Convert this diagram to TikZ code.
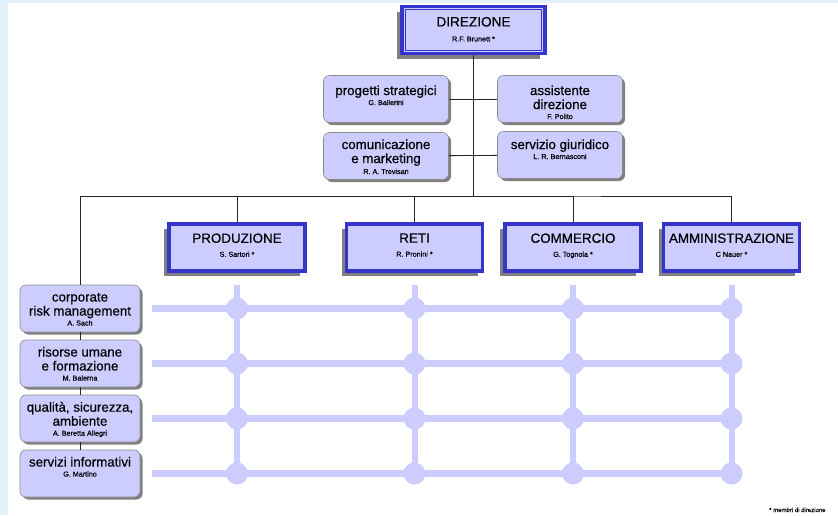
\documentclass[tikz,border=0pt]{standalone}
\usepackage{fontspec}
\setmainfont{Liberation Sans}[FakeBold=0.4]
\usetikzlibrary{shadows}
\definecolor{lavender}{HTML}{CCCCFF}
\definecolor{unitblue}{HTML}{3535CC}
\definecolor{pagecyan}{HTML}{E4F3FB}
\newcommand{\namefont}{\fontsize{7.2}{8}\selectfont}

\begin{document}
\begin{tikzpicture}[x=1pt, y=-1pt,
    unit/.style={draw=unitblue, line width=3.5pt, fill=lavender, minimum width=136pt, minimum height=47pt, inner sep=0pt,
      drop shadow={shadow xshift=-5pt, shadow yshift=-5pt, fill=black!50, opacity=1}},
    staff/.style={draw=black!45, line width=0.6pt, fill=lavender, rounded corners=6pt, minimum width=125pt, minimum height=47pt, inner sep=0pt,
      drop shadow={shadow xshift=2.5pt, shadow yshift=-2.5pt, fill=black!50, opacity=1}},
    unittext/.style={anchor=north, inner sep=0pt, align=center, font=\fontsize{13.4}{14}\selectfont},
    stafftext/.style={anchor=north, inner sep=0pt, align=center, font=\fontsize{13.3}{14}\selectfont},
    link/.style={draw=black!85, line width=0.8pt},
    matrixline/.style={draw=lavender, line width=#1}]
  \useasboundingbox (0,0) rectangle (838,515);
  \fill[pagecyan] (0,0) rectangle (838,515);
  \fill[white] (8,3) rectangle (838,515);

  % direzione
  \node[unit, minimum width=143pt] (dir) at (473.5,30) {};
  \draw[unitblue, line width=0.8pt] ([shift={(5pt,-5pt)}]dir.north west) rectangle ([shift={(-5pt,5pt)}]dir.south east);
  \node[unittext, font=\fontsize{13.6}{15}\selectfont] (dir-t) at ([yshift=-12pt]dir.north) {DIREZIONE\\{\namefont R.F. Brunett *}};

  % staff
  \node[staff] (prog) at (386,99) {};
  \node[staff] (assist) at (560,99) {};
  \node[staff] (comm) at (386,156) {};
  \node[staff] (giur) at (560,155) {};
  \node[stafftext] (prog-t) at ([yshift=-10pt]prog.north) {progetti strategici\\[-4pt]{\namefont G. Ballerini}};
  \node[stafftext] (assist-t) at ([yshift=-10pt]assist.north) {assistente\\direzione\\[-4pt]{\namefont F. Polito}};
  \node[stafftext] (comm-t) at ([yshift=-7pt]comm.north) {comunicazione\\e marketing\\[-3pt]{\namefont R. A. Trevisan}};
  \node[stafftext] (giur-t) at ([yshift=-8pt]giur.north) {servizio giuridico\\[-4pt]{\namefont L. R. Bernasconi}};

  % unita
  \node[unit] (prod) at (237,247.5) {};
  \node[unit] (reti) at (414.5,247.5) {};
  \node[unit] (vend) at (573,247.5) {};
  \node[unit] (amm) at (731.5,247.5) {};
  \node[unittext] (prod-t) at ([yshift=-11pt]prod.north) {PRODUZIONE\\{\namefont S. Sartori *}};
  \node[unittext] (reti-t) at ([yshift=-11pt]reti.north) {RETI\\{\namefont R. Pronini *}};
  \node[unittext] (vend-t) at ([yshift=-11pt]vend.north) {COMMERCIO\\{\namefont G. Tognola *}};
  \node[unittext] (amm-t) at ([yshift=-11pt]amm.north) {AMMINISTRAZIONE\\{\namefont C Nauer *}};

  % servizi trasversali
  \node[staff, minimum width=120pt] (crm) at (80,308.5) {};
  \node[staff, minimum width=120pt] (rum) at (80,363.5) {};
  \node[staff, minimum width=120pt] (qual) at (80,418.5) {};
  \node[staff, minimum width=120pt] (serv) at (80,473.5) {};
  \node[stafftext] (crm-t) at ([yshift=-8pt]crm.north) {corporate\\risk management\\[-4pt]{\namefont A. Sach}};
  \node[stafftext] (rum-t) at ([yshift=-7pt]rum.north) {risorse umane\\e formazione\\[-4pt]{\namefont M. Balerna}};
  \node[stafftext] (qual-t) at ([yshift=-7pt]qual.north) {qualità, sicurezza,\\ambiente\\[-4pt]{\namefont A. Beretta Allegri}};
  \node[stafftext] (serv-t) at ([yshift=-7pt]serv.north) {servizi informativi\\[-4pt]{\namefont G. Martino}};

  % linee
  \coordinate (hub) at (473.5,196);
  \draw[link] (dir.south) -- (hub);
  \draw[link] (prog) -- (assist);
  \draw[link] (comm) -- (giur);
  \draw[link] (crm.north) |- (hub) -| (amm.north);
  \foreach \u in {prod,reti,vend}
    \draw[link] (hub) -| (\u.north);
  \draw[link] (crm) -- (rum);
  \draw[link] (rum) -- (qual);
  \draw[link] (qual) -- (serv);

  % matrice
  \foreach \r in {crm,rum,qual,serv}
    \draw[matrixline=7pt] ([xshift=12pt]crm.east |- \r.east) -- (amm.south |- \r.east);
  \foreach \u in {prod,reti,vend,amm} {
    \draw[matrixline=6pt] ([yshift=-12pt]\u.south) -- (\u.south |- serv.east);
    \foreach \r in {crm,rum,qual,serv}
      \fill[lavender] (\u.south |- \r.east) circle (11pt);
  }

  \node[anchor=base west, inner sep=0pt, font=\fontsize{6}{7}\selectfont] (note) at (769,512) {* membri di direzione};
\end{tikzpicture}
\end{document}
